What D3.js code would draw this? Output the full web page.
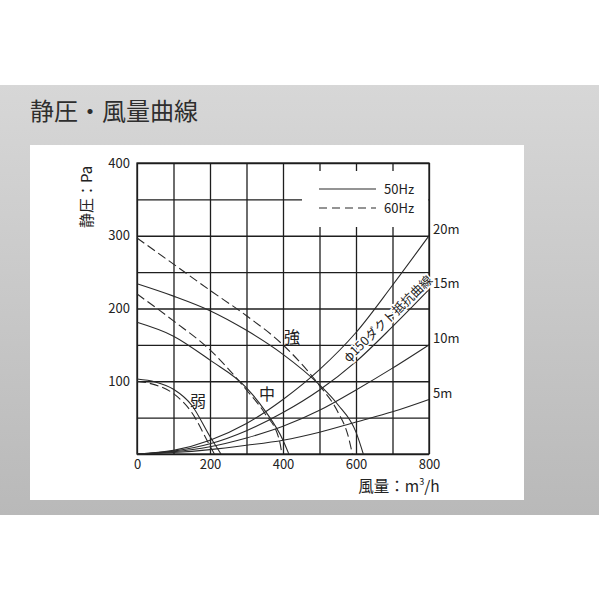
<!DOCTYPE html>
<html lang="ja">
<head>
	<meta charset="UTF-8"/>
	<title>静圧・風量曲線</title>
	<script src="https://d3js.org/d3.v7.min.js"></script>
	<style>
		body { margin: 0; background: #fff; }
		svg { display: block; font-family: "Noto Sans CJK JP", "Noto Sans", sans-serif; }
	</style>
</head>
<body>
<script>
	// tick labels
	var flowTicks = [0, 200, 400, 600, 800];
	var pressureTicks = [100, 200, 300, 400];

	// fan curves [風量 m3/h, 静圧 Pa]  50Hz = solid, 60Hz = dashed
	var weak50 = [[0,103],[50,99],[100,89],[150,67],[200,24],[230,0]];
	var weak60 = [[0,100],[50,95],[100,83],[150,57],[200,11],[212,0]];
	var mid50 = [[0,181],[100,162],[200,129],[300,91],[350,60],[400,19],[416,0]];
	var mid60 = [[0,220],[100,183],[200,143],[300,88],[350,56],[390,19],[397,0]];
	var strong50 = [[0,234],[100,217],[200,197],[300,170],[400,137],[500,95],[550,68],[600,30],[620,0]];
	var strong60 = [[0,297],[100,261],[200,225],[300,190],[400,150],[500,94],[550,58],[580,22],[590,0]];

	// duct resistance curves (φ150)
	var duct5 = [[0,0],[100,2],[200,6],[300,12],[400,19],[500,30],[600,44],[700,58],[800,75]];
	var duct10 = [[0,0],[100,3],[200,10],[300,22],[400,38],[500,60],[600,88],[700,118],[800,150]];
	var duct15 = [[0,0],[100,4],[200,14],[300,32],[400,57],[500,88],[600,127],[700,175],[800,226]];
	var duct20 = [[0,0],[100,5],[200,19],[300,42],[400,75],[500,116],[600,167],[700,232],[800,300]];
	var ductNames = ["5m", "10m", "15m", "20m"];

	// speed labels and where they sit (data units)
	var speedNames = ["弱", "中", "強"];
	var speedSpots = [[167,74],[356,84],[425,162]];

	var w = 599;
	var h = 599;

	//Scales: 0-800 m3/h across the box, 0-400 Pa up the box
	var xScale = d3.scaleLinear()
					.domain([0, 800])
					.range([137, 429]);

	var yScale = d3.scaleLinear()
					.domain([0, 400])
					.range([454, 163]);

	var svg = d3.select("body")
				.append("svg")
				.attr("width", w)
				.attr("height", h);

	//grey band behind everything
	var grad = svg.append("defs")
				.append("linearGradient")
				.attr("id", "band")
				.attr("x1", 0).attr("y1", 0)
				.attr("x2", 0).attr("y2", 1);
	grad.append("stop").attr("offset", "0%").attr("stop-color", "#d7d7d7");
	grad.append("stop").attr("offset", "100%").attr("stop-color", "#b9b9b9");

	svg.append("rect")
		.attr("x", 0)
		.attr("y", 85)
		.attr("width", w)
		.attr("height", 430)
		.attr("fill", "url(#band)");

	svg.append("text")
		.attr("x", 30)
		.attr("y", 120)
		.attr("font-size", 24)
		.attr("fill", "#2e2e2e")
		.text("静圧・風量曲線");

	//white card
	svg.append("rect")
		.attr("x", 30)
		.attr("y", 145)
		.attr("width", 494)
		.attr("height", 355)
		.attr("fill", "#fff");

	//grid lines, drawn with the axes
	var gridX = d3.axisBottom(xScale)
					.tickValues(d3.range(0, 801, 100))
					.tickSize(-(yScale(0) - yScale(400)))
					.tickFormat("");
	var gridY = d3.axisLeft(yScale)
					.tickValues(d3.range(0, 401, 50))
					.tickSize(-(xScale(800) - xScale(0)))
					.tickFormat("");

	var gx = svg.append("g")
		.attr("transform", "translate(0," + yScale(0) + ")")
		.call(gridX);
	var gy = svg.append("g")
		.attr("transform", "translate(" + xScale(0) + ",0)")
		.call(gridY);
	gx.select(".domain").remove();
	gy.select(".domain").remove();
	svg.selectAll(".tick line")
		.attr("stroke", "#1e1e1e")
		.attr("stroke-width", 1.3);

	//legend box cuts the grid
	svg.append("rect")
		.attr("x", 302)
		.attr("y", 171)
		.attr("width", xScale(800) - 302 - 0.7)
		.attr("height", 56)
		.attr("fill", "#fff");

	//outer frame
	svg.append("rect")
		.attr("x", xScale(0))
		.attr("y", yScale(400))
		.attr("width", xScale(800) - xScale(0))
		.attr("height", yScale(0) - yScale(400))
		.attr("fill", "none")
		.attr("stroke", "#1e1e1e")
		.attr("stroke-width", 1.3);

	//tick labels
	var xAxis = d3.axisBottom(xScale).tickValues(flowTicks).tickSize(0).tickPadding(6);
	var yAxis = d3.axisLeft(yScale).tickValues(pressureTicks).tickSize(0).tickPadding(7);

	var ax = svg.append("g")
		.attr("transform", "translate(0," + yScale(0) + ")")
		.call(xAxis);
	var ay = svg.append("g")
		.attr("transform", "translate(" + xScale(0) + ",0)")
		.call(yAxis);
	[ax, ay].forEach(function(g) {
		g.select(".domain").remove();
		g.attr("font-family", null).attr("font-size", 13);
		g.selectAll("text").attr("fill", "#222");
	});

	var line = d3.line()
				.x(function(d) { return xScale(d[0]); })
				.y(function(d) { return yScale(d[1]); })
				.curve(d3.curveMonotoneX);

	//duct resistance curves
	var ducts = [duct5, duct10, duct15, duct20];
	svg.selectAll(".duct")
		.data(ducts)
		.enter()
		.append("path")
		.attr("class", "duct")
		.attr("d", line)
		.attr("fill", "none")
		.attr("stroke", "#2a2a2a")
		.attr("stroke-width", 1.1);

	svg.selectAll(".ductlabel")
		.data(ducts)
		.enter()
		.append("text")
		.attr("class", "ductlabel")
		.attr("x", xScale(800) + 4)
		.attr("y", function(d) { return yScale(d[d.length - 1][1]) - 5; })
		.attr("dominant-baseline", "middle")
		.attr("font-size", 13)
		.attr("fill", "#222")
		.text(function(d, i) { return ductNames[i]; });

	//fan curves
	var fans = [
		{ pts: weak50, dash: null }, { pts: weak60, dash: "9,4" },
		{ pts: mid50, dash: null }, { pts: mid60, dash: "9,4" },
		{ pts: strong50, dash: null }, { pts: strong60, dash: "9,4" }
	];
	svg.selectAll(".fan")
		.data(fans)
		.enter()
		.append("path")
		.attr("class", "fan")
		.attr("d", function(d) { return line(d.pts); })
		.attr("fill", "none")
		.attr("stroke", "#2a2a2a")
		.attr("stroke-width", 1.1)
		.attr("stroke-dasharray", function(d) { return d.dash; });

	svg.selectAll(".speed")
		.data(speedNames)
		.enter()
		.append("text")
		.attr("class", "speed")
		.attr("x", function(d, i) { return xScale(speedSpots[i][0]); })
		.attr("y", function(d, i) { return yScale(speedSpots[i][1]); })
		.attr("text-anchor", "middle")
		.attr("dominant-baseline", "central")
		.attr("font-size", 16)
		.attr("fill", "#222")
		.text(function(d) { return d; });

	//duct band label, white halo hides the grid under it
	svg.append("text")
		.attr("transform", "translate(" + xScale(685) + "," + yScale(187) + ") rotate(-44)")
		.attr("text-anchor", "middle")
		.attr("dominant-baseline", "central")
		.attr("font-size", 12.5)
		.attr("fill", "#222")
		.attr("stroke", "#fff")
		.attr("stroke-width", 3)
		.attr("paint-order", "stroke")
		.text("φ150ダクト抵抗曲線");

	//legend
	svg.append("line")
		.attr("x1", 319).attr("x2", 376)
		.attr("y1", 189).attr("y2", 189)
		.attr("stroke", "#2a2a2a").attr("stroke-width", 1.1);
	svg.append("line")
		.attr("x1", 319).attr("x2", 376)
		.attr("y1", 208).attr("y2", 208)
		.attr("stroke", "#2a2a2a").attr("stroke-width", 1.1)
		.attr("stroke-dasharray", "8,5");
	svg.append("text")
		.attr("x", 384).attr("y", 194)
		.attr("font-size", 13).attr("fill", "#222")
		.text("50Hz");
	svg.append("text")
		.attr("x", 384).attr("y", 213)
		.attr("font-size", 13).attr("fill", "#222")
		.text("60Hz");

	//axis titles
	svg.append("text")
		.attr("text-anchor", "middle")
		.attr("transform", "translate(92,197) rotate(-90)")
		.attr("font-size", 15)
		.attr("fill", "#222")
		.text("静圧：Pa");

	var xt = svg.append("text")
		.attr("x", 399)
		.attr("y", 492)
		.attr("text-anchor", "middle")
		.attr("font-size", 15.5)
		.attr("fill", "#222")
		.text("風量：m");
	xt.append("tspan").attr("font-size", 9).attr("dy", -7).text("3");
	xt.append("tspan").attr("dy", 7).text("/h");
</script>
</body>
</html>
